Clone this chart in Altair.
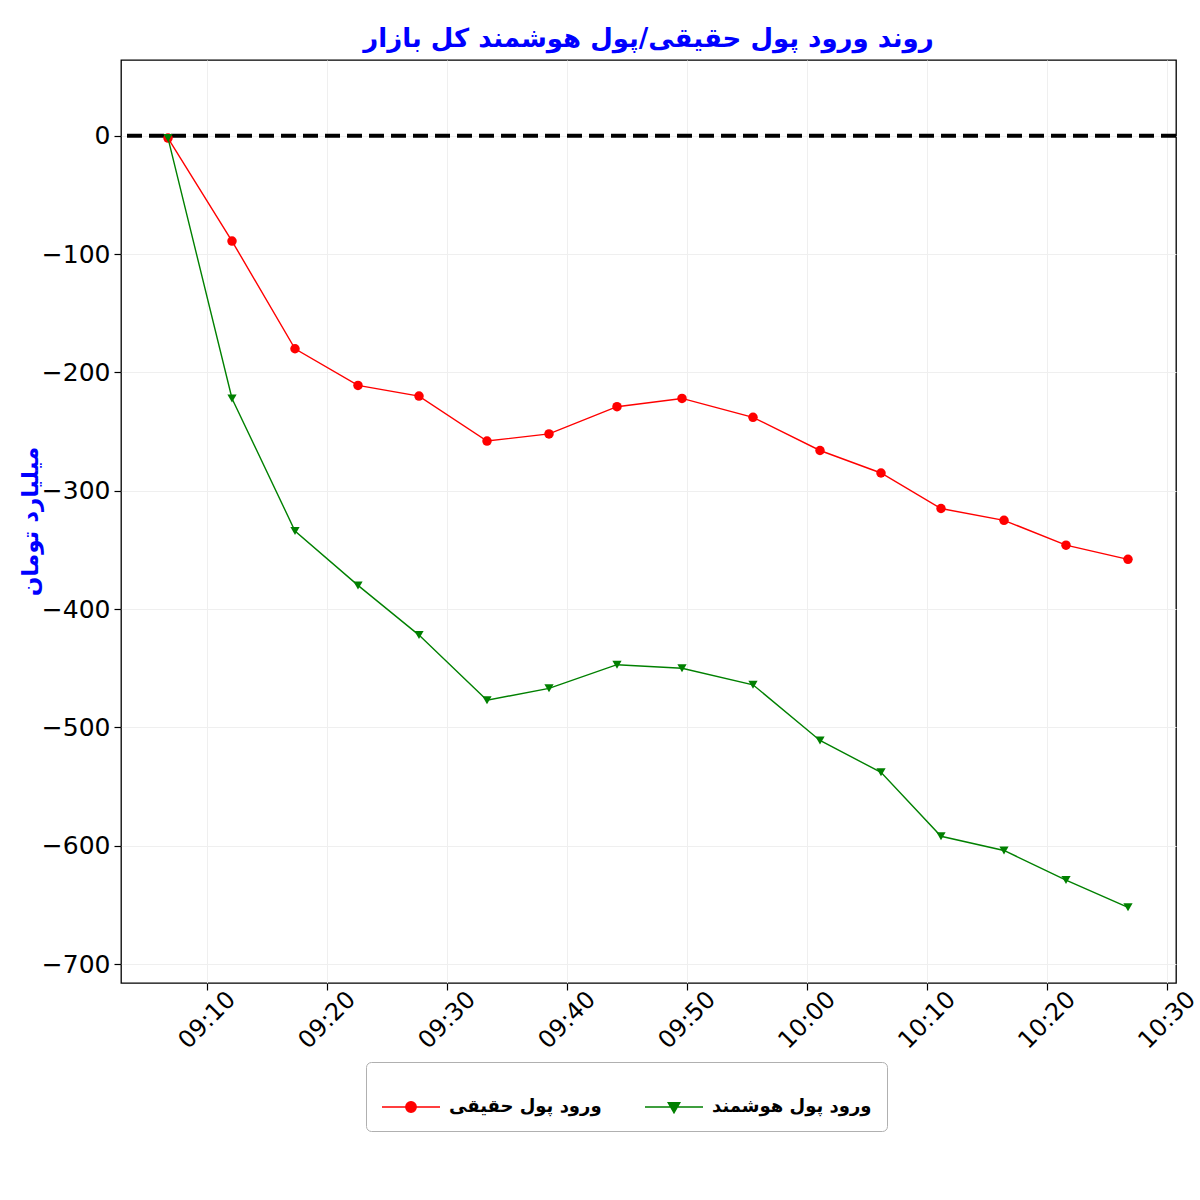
import altair as alt
import pandas as pd

# ---- data ----
times = ["09:06:45", "09:12:05", "09:17:20", "09:22:35", "09:27:40", "09:33:20",
         "09:38:30", "09:44:10", "09:49:35", "09:55:30", "10:01:05", "10:06:10",
         "10:11:10", "10:16:25", "10:21:35", "10:26:45"]
real_money = [-2, -89, -180, -211, -220, -258, -252, -229, -222, -238, -266, -285,
              -315, -325, -346, -358]
smart_money = [-2, -222, -334, -380, -422, -477, -467, -447, -450, -464, -511, -538,
               -592, -604, -629, -652]

series_names = ["ورود پول حقیقی", "ورود پول هوشمند"]
series_colors = ["#ff0000", "#008000"]
title_text = "روند ورود پول حقیقی/پول هوشمند کل بازار"
y_title = "میلیارد تومان"
x_ticks = ["09:10", "09:20", "09:30", "09:40", "09:50", "10:00", "10:10", "10:20", "10:30"]
y_ticks = [0, -100, -200, -300, -400, -500, -600, -700]
x_range = ["09:02:50", "10:30:45"]
y_range = [-716, 64]

FONT = "DejaVu Sans"


def dt(s):
    parts = [int(p) for p in s.split(":")]
    while len(parts) < 3:
        parts.append(0)
    return alt.DateTime(year=2024, month=1, date=1, hours=parts[0],
                        minutes=parts[1], seconds=parts[2])


rows = []
for name, vals in zip(series_names, [real_money, smart_money]):
    for t, v in zip(times, vals):
        rows.append({"time": "2024-01-01T" + t, "value": v, "series": name})
df = pd.DataFrame(rows)

x_enc = alt.X("time:T",
              scale=alt.Scale(domain=[dt(x_range[0]), dt(x_range[1])], nice=False),
              axis=alt.Axis(values=[dt(t) for t in x_ticks], format="%H:%M",
                            title=None, labelAngle=-45, labelAlign="center",
                            labelBaseline="middle", labelPadding=30,
                            labelFontSize=24, labelFont=FONT, labelColor="black",
                            tickSize=7, tickColor="black", tickWidth=1.2,
                            domain=False, grid=True, gridColor="#efefef",
                            gridWidth=1, labelFlush=False, labelOverlap=False))
y_enc = alt.Y("value:Q",
              scale=alt.Scale(domain=y_range, nice=False, zero=False),
              axis=alt.Axis(values=y_ticks, title=y_title, titleFontSize=23,
                            titleFont=FONT, titleColor="#0000ff",
                            titleFontWeight="bold", titleAngle=270,
                            titleX=-91, titleY=461, titleAlign="center",
                            titleBaseline="middle",
                            labelFontSize=25, labelFont=FONT, labelColor="black",
                            labelPadding=4, tickSize=7, tickColor="black",
                            tickWidth=1.2, domain=False, grid=True,
                            gridColor="#efefef", gridWidth=1))

base = alt.Chart(df)

zero_rule = alt.Chart(pd.DataFrame({"z": [0]})).mark_rule(
    color="black", strokeWidth=4, strokeDash=[15, 7]
).encode(y=alt.Y("z:Q", scale=alt.Scale(domain=y_range, nice=False, zero=False)))

layers = [zero_rule]
shapes = ["circle", "triangle-down"]
for name, col, shp in zip(series_names, series_colors, shapes):
    sub = base.transform_filter(alt.datum.series == name)
    layers.append(sub.mark_line(color=col, strokeWidth=1.4).encode(x=x_enc, y=y_enc))
    layers.append(sub.mark_point(shape=shp, filled=True, color=col, opacity=1,
                                 size=90 if shp == "circle" else 85).encode(x=x_enc, y=y_enc))

# legend carrier layer (no visible marks)
legend_paths = [
    "M-1,0L1,0M0.18,0A0.18,0.18,0,1,1,-0.18,0A0.18,0.18,0,1,1,0.18,0Z",
    "M-1,0L1,0M-0.2,-0.15L0.2,-0.15L0,0.2Z",
]
leg = alt.Legend(orient="none", legendX=245, legendY=1002, direction="horizontal",
                 title=None, symbolSize=3364, symbolStrokeWidth=1.4,
                 labelFontSize=18, labelFontWeight="bold", labelFont=FONT,
                 labelColor="black", labelLimit=400, labelOffset=8,
                 columnPadding=40, padding=15, strokeColor="#b0b0b0",
                 cornerRadius=5, fillColor="white", symbolOpacity=1)
legend_layer = base.transform_filter("false").mark_point(filled=True).encode(
    fill=alt.Fill("series:N", scale=alt.Scale(domain=series_names, range=series_colors),
                  legend=leg),
    stroke=alt.Stroke("series:N", scale=alt.Scale(domain=series_names, range=series_colors),
                      legend=leg),
    shape=alt.Shape("series:N", scale=alt.Scale(domain=series_names, range=legend_paths),
                    legend=leg),
)
layers.append(legend_layer)

chart = alt.layer(*layers).properties(
    width=1055, height=923,
    title=alt.TitleParams(title_text, fontSize=26, font=FONT, fontWeight="bold",
                          color="#0000ff", anchor="middle", offset=8),
    autosize=alt.AutoSizeParams(type="none"),
    padding={"left": 121, "top": 60, "right": 24, "bottom": 217},
    background="white",
).configure_view(stroke="black", strokeWidth=1.3)

chart.save("out.html", embed_options={"renderer": "svg", "actions": False})
